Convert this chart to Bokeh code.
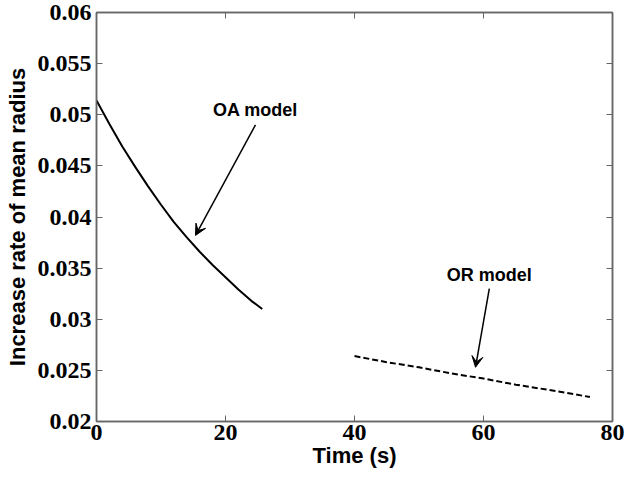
from bokeh.plotting import figure
from bokeh.models import Range1d, LinearAxis, FixedTicker, Arrow, VeeHead, Label
from bokeh.embed import file_html
from bokeh.resources import INLINE

# Data
oa_time = [0, 2, 4, 6, 8, 10, 12, 14, 16, 18, 20, 22, 24, 25.7]
oa_rate = [0.0514, 0.0491, 0.0469, 0.0449, 0.0430, 0.0412, 0.0395,
           0.0380, 0.0366, 0.0353, 0.0341, 0.0329, 0.0318, 0.0310]
or_time = [40, 45, 50, 55, 60, 65, 70, 76.5]
or_rate = [0.0264, 0.0258, 0.0253, 0.0247, 0.0242, 0.0236, 0.0231, 0.0224]

x_ticks = [0, 20, 40, 60, 80]
y_ticks = [0.02, 0.025, 0.03, 0.035, 0.04, 0.045, 0.05, 0.055, 0.06]
y_tick_labels = ["0.02", "0.025", "0.03", "0.035", "0.04", "0.045", "0.05", "0.055", "0.06"]

AXIS_COLOR = "#666666"
TICK_FONT = "Liberation Serif"
LABEL_FONT = "Liberation Sans"

p = figure(width=624, height=479, x_range=Range1d(0, 80), y_range=Range1d(0.02, 0.06),
           output_backend="svg", toolbar_location=None,
           min_border_left=96, min_border_right=12, min_border_top=12, min_border_bottom=58)
p.grid.visible = False
p.outline_line_color = AXIS_COLOR
p.outline_line_width = 1.5
p.background_fill_color = "white"
p.border_fill_color = "white"

def style_axis(ax, ticks, show_labels):
    ax.ticker = FixedTicker(ticks=ticks)
    ax.axis_line_color = AXIS_COLOR
    ax.axis_line_width = 1.5
    ax.major_tick_line_color = AXIS_COLOR
    ax.major_tick_in = 6
    ax.major_tick_out = 0
    ax.minor_tick_line_color = None
    if show_labels:
        ax.major_label_text_font = TICK_FONT
        ax.major_label_text_font_style = "bold"
        ax.major_label_text_font_size = "24px"
        ax.major_label_text_color = "black"
        ax.axis_label_text_font = LABEL_FONT
        ax.axis_label_text_font_style = "bold"
        ax.axis_label_text_font_size = "22px"
        ax.axis_label_text_color = "black"
    else:
        ax.major_label_text_font_size = "0px"
        ax.major_label_standoff = 0

style_axis(p.xaxis[0], x_ticks, True)
style_axis(p.yaxis[0], y_ticks, True)
p.xaxis[0].axis_label = "Time (s)"
p.xaxis[0].major_label_standoff = 3
p.xaxis[0].axis_label_standoff = 0
p.yaxis[0].axis_label = "Increase rate of mean radius"
p.yaxis[0].major_label_overrides = {t: s for t, s in zip(y_ticks, y_tick_labels)}
p.yaxis[0].major_label_standoff = 5
p.yaxis[0].axis_label_standoff = 5

right = LinearAxis()
style_axis(right, y_ticks, False)
p.add_layout(right, "right")
top = LinearAxis()
style_axis(top, x_ticks, False)
p.add_layout(top, "above")

p.line(oa_time, oa_rate, line_color="black", line_width=2)
p.line(or_time, or_rate, line_color="black", line_width=2, line_dash="6 3")

# Annotations
p.add_layout(Arrow(end=VeeHead(size=11, fill_color="black", line_color="black", line_width=1),
                   x_start=24.65, y_start=0.0490, x_end=15.35, y_end=0.0382,
                   line_color="black", line_width=1.5))
p.add_layout(Arrow(end=VeeHead(size=11, fill_color="black", line_color="black", line_width=1),
                   x_start=60.9, y_start=0.0330, x_end=58.76, y_end=0.0253,
                   line_color="black", line_width=1.5))
p.add_layout(Label(x=24.65, y=0.0505, text="OA model", text_align="center", text_baseline="middle",
                   text_font=LABEL_FONT, text_font_style="bold", text_font_size="18px", text_color="black"))
p.add_layout(Label(x=60.9, y=0.0343, text="OR model", text_align="center", text_baseline="middle",
                   text_font=LABEL_FONT, text_font_style="bold", text_font_size="18px", text_color="black"))

open("out.html", "w").write(file_html(p, INLINE))
